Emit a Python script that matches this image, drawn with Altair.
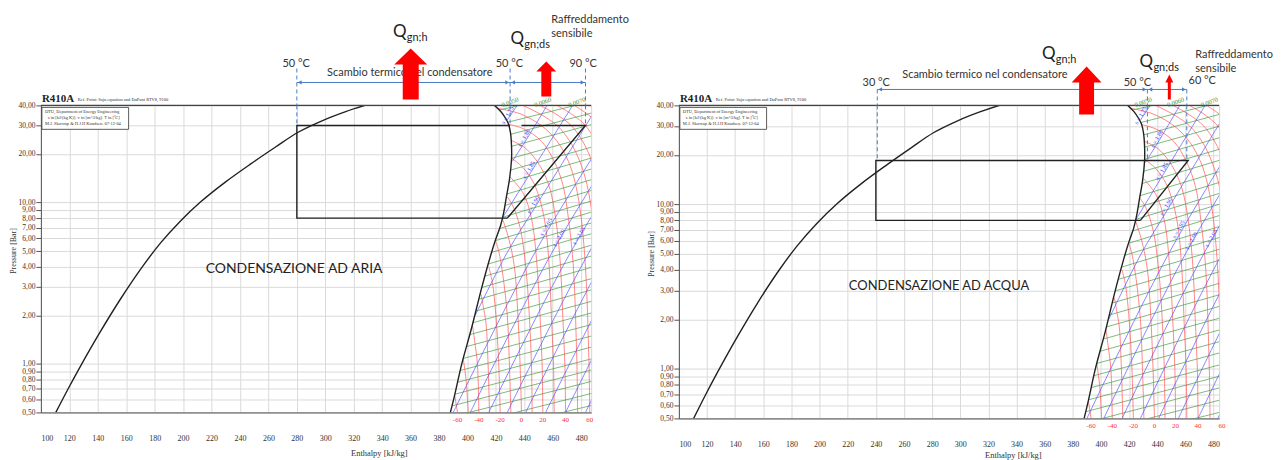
import altair as alt
import pandas as pd

# ---------------- data ----------------
H_TICKS = list(range(100, 481, 20))
P_TICKS = [0.5, 0.6, 0.7, 0.8, 0.9, 1, 2, 3, 4, 5, 6, 7, 8, 9, 10, 20, 30, 40]

# saturation dome
LIQ_H = [110.5, 118.9, 127.3, 141.4, 156.1, 170.8, 184.2, 198.2, 212.2, 229.7, 247.3, 264.8, 280.9, 298.5, 313.9, 327.9]
LIQ_P = [0.50, 0.694, 0.949, 1.561, 2.533, 3.937, 5.62, 7.69, 10.07, 13.39, 17.29, 22.0, 27.27, 32.35, 36.5, 40.0]
VAP_H = [388.0, 391.0, 396.0, 403.0, 410.0, 416.3, 419.8, 423.3, 425.4, 427.5, 429.6, 431.0, 431.0, 430.3, 428.9, 426.8, 423.3, 419.0]
VAP_P = [0.50, 0.64, 1.00, 1.68, 2.96, 4.70, 5.90, 7.20, 8.60, 11.0, 14.0, 18.6, 22.3, 26.9, 30.6, 33.3, 36.8, 40.0]

# isotherms (red)
ISOT_T = [-60, -50, -40, -30, -20, -10, 0, 10, 20, 30, 40, 50, 60, 70, 80, 90, 100, 110]
ISOT_H = [
    [393, 391],
    [400.5, 399, 397],
    [408, 407, 405, 403.5],
    [415.5, 414.5, 413, 411, 409.5],
    [423, 422, 420, 417.5, 415],
    [430.5, 429.5, 428, 425, 422, 420],
    [438, 437, 435.5, 433, 429, 424.5],
    [445.5, 445, 443.5, 441, 437, 432, 428],
    [453, 452.5, 451, 449, 445, 439, 430],
    [461, 460.5, 459, 457.5, 454, 447, 439, 431],
    [469, 468.5, 467, 465.5, 462, 457, 449, 440, 431],
    [477.5, 477, 476, 474.5, 471, 467, 461, 452, 440, 429],
    [486, 485.5, 484.5, 483, 480, 476, 471, 463, 452, 437, 422],
    [493.5, 492.5, 491, 488, 484, 479, 472, 463, 452, 439],
    [501, 500, 498.5, 496, 492, 487.5, 481, 473, 463, 451],
    [509, 508, 506.5, 504, 500, 496, 490, 483, 474, 463],
    [517, 516, 514.5, 512, 508.5, 504.5, 499, 493, 485, 475],
    [525, 524, 522.5, 520, 516.5, 513, 508, 502, 495, 486],
]
ISOT_P = [
    [0.5, 0.64],
    [0.5, 0.8, 1.08],
    [0.5, 1, 1.4, 1.75],
    [0.5, 1, 1.8, 2.3, 2.71],
    [0.5, 1, 2, 3.2, 4.0],
    [0.5, 1, 2, 3.5, 5, 5.73],
    [0.5, 1, 2, 4, 6, 7.98],
    [0.5, 1, 2, 4, 7, 9.5, 10.85],
    [0.5, 1, 2, 4, 8, 11.5, 14.4],
    [0.5, 1, 2, 4, 8, 13, 16.5, 18.8],
    [0.5, 1, 2, 4, 8, 13, 18, 22, 24.2],
    [0.5, 1, 2, 4, 8, 13, 18, 24, 28.5, 30.6],
    [0.5, 1, 2, 4, 8, 13, 18, 24, 30, 35.5, 38.3],
    [0.5, 2, 4, 8, 13, 18, 24, 30, 35, 40],
    [0.5, 2, 4, 8, 13, 18, 24, 30, 35, 40],
    [0.5, 2, 4, 8, 13, 18, 24, 30, 35, 40],
    [0.5, 2, 4, 8, 13, 18, 24, 30, 35, 40],
    [0.5, 2, 4, 8, 13, 18, 24, 30, 35, 40],
]
ISOT_LAB_T = [-60, -40, -20, 0, 20, 40, 60]
ISOT_LAB_H = [393, 408, 423, 438, 453, 469, 486]

# isentropes (blue)
ISEN_S = [1.75, 1.80, 1.85, 1.90, 1.95, 2.00, 2.05, 2.10, 2.15, 2.20, 2.25, 2.30]
ISEN_H = [
    [428, 435],
    [431.5, 441.5, 456],
    [424.5, 445, 474],
    [405.5, 428.5, 448, 492],
    [390, 448, 511],
    [402, 460, 523],
    [415, 473, 536],
    [428, 486, 549],
    [441, 499, 562],
    [455, 513, 576],
    [469, 527, 590],
    [483, 541, 604],
]
ISEN_P = [
    [32.5, 40],
    [18, 24.6, 40],
    [8, 15.6, 40],
    [2, 5, 9.5, 40],
    [0.5, 5, 40], [0.5, 5, 40], [0.5, 5, 40], [0.5, 5, 40],
    [0.5, 5, 40], [0.5, 5, 40], [0.5, 5, 40], [0.5, 5, 40],
]
ISEN_LAB = ["s = 1,75", "s = 1,80", "s = 1,85", "s = 1,90", "s = 1,95", "s = 2,00", "s = 2,05"]
ISEN_LAB_H = [430, 441.5, 445, 448, 457, 466, 480]
ISEN_LAB_P = [34, 24.6, 15.6, 9.5, 6.9, 5.9, 6.1]

# isochores (green)
ISOC_H0 = [383, 385, 387, 389.5, 391.5, 393.3, 395, 397, 399.3, 401.8, 404, 406.3, 408.3, 410.2, 412.2,
           414.3, 416.6, 419.5, 422.5, 424.7, 426.3, 427.8, 429.3, 430.3, 431, 431, 430.4, 428.5, 422.5]
ISOC_P0 = [0.33, 0.39, 0.465, 0.55, 0.65, 0.77, 0.91, 1.08, 1.28, 1.52, 1.8, 2.13, 2.52, 2.98, 3.5,
           4.15, 4.9, 5.8, 6.9, 8.1, 9.6, 11.3, 13.4, 15.9, 18.8, 22.3, 26.5, 31.5, 37.5]
ISOC_H1 = [490, 490, 490, 490, 490, 490, 490, 490, 490, 490, 490, 490, 490, 490, 490,
           490, 490, 490, 490, 490, 490, 490, 490, 490, 490, 490, 490, 490, 490]
ISOC_P1 = [0.56, 0.665, 0.79, 0.93, 1.09, 1.29, 1.51, 1.78, 2.1, 2.48, 2.92, 3.43, 4.03, 4.74, 5.53,
           6.52, 7.6, 8.87, 10.4, 12.1, 14.1, 16.4, 19.2, 22.4, 26.3, 30.9, 36.4, 43, 51]
ISOC_LAB = ["0,0050", "0,0060", "0,0070"]
ISOC_LAB_H = [430, 453, 477]

# cycles
AIR_CYC_H = [[428, 280, 280, 430], [438, 483, 428]]
AIR_CYC_P = [[8, 8, 30, 30], [30, 30, 8]]
AIR_DASH_H = [280, 430, 483]
AIR_DASH_P = [30, 30, 30]
AIR_DASH_LAB = ["50 °C", "50 °C", "90 °C"]

WAT_CYC_H = [[428, 240, 240, 462, 428]]
WAT_CYC_P = [[8, 8, 18.5, 18.5, 8]]
WAT_DASH_H = [241, 433, 461]
WAT_DASH_P = [18.5, 18.5, 18.5]
WAT_DASH_LAB = ["30 °C", "50 °C", "60 °C"]

# ---------------- helpers ----------------
SERIF = "Liberation Serif"
SANS = "Lato"
ONE = pd.DataFrame({"k": [0]})


def lines_df(keys, hs, ps):
    rows = []
    for k, hl, pl in zip(keys, hs, ps):
        for i, (h, p) in enumerate(zip(hl, pl)):
            rows.append({"h": h, "p": p, "k": str(k), "o": i})
    return pd.DataFrame(rows)


def txt(s, x, y, size=11, color="#222", font=SANS, align="left", baseline="middle", weight="normal", angle=0):
    return alt.Chart(ONE).mark_text(text=s, fontSize=size, color=color, font=font, align=align,
                                    baseline=baseline, fontWeight=weight, angle=angle).encode(
        x=alt.value(x), y=alt.value(y))


def arrow(x, y, w_head, w_shaft, height, head_h):
    a = w_head / height
    b = w_shaft / height
    c = -1 + 2 * head_h / height
    path = (f"M{-b:.3f},1L{b:.3f},1L{b:.3f},{c:.3f}L{a:.3f},{c:.3f}L0,-1"
            f"L{-a:.3f},{c:.3f}L{-b:.3f},{c:.3f}Z")
    return alt.Chart(ONE).mark_point(shape=path, filled=True, size=height ** 2, color="#ff0000",
                                     opacity=1, strokeWidth=0).encode(x=alt.value(x), y=alt.value(y))


ISOT_DF = lines_df(ISOT_T, ISOT_H, ISOT_P)
ISEN_DF = lines_df(ISEN_S, ISEN_H, ISEN_P)
ISOC_DF = lines_df(list(range(len(ISOC_H0))), [[a, b] for a, b in zip(ISOC_H0, ISOC_H1)],
                   [[a, b] for a, b in zip(ISOC_P0, ISOC_P1)])
DOME_DF = lines_df(["liq", "vap"], [LIQ_H, VAP_H], [LIQ_P, VAP_P])


def panel(W, H, XMAX, cyc_h, cyc_p, dash_h, dash_p, dash_lab, ann):
    XS = alt.Scale(domain=[100, XMAX], nice=False, zero=False)
    YS = alt.Scale(type="log", domain=[0.5, 40], nice=False)
    XA = alt.Axis(values=H_TICKS, format="d", grid=True, gridColor="#dadada", ticks=False, labelPadding=22,
                  labelFont=SERIF, labelFontSize=8, labelColor="#333", domainColor="#555", labelOverlap=False,
                  title="Enthalpy [kJ/kg]", titleFont=SERIF, titleFontSize=8.5, titleFontWeight="normal",
                  titleColor="#333", titleX=ann["titleX"], titleY=ann["titleY"], titleBaseline="middle")
    YA = alt.Axis(values=P_TICKS, labelExpr="replace(format(datum.value, '.2f'), '.', ',')", grid=True,
                  gridColor="#dadada", tickColor="#555", tickSize=5, labelPadding=1, labelFont=SERIF,
                  labelFontSize=7.5, labelColor="#333", domainColor="#555", title=None, minExtent=0,
                  labelOverlap=False)

    def X(f="h"):
        return alt.X(f"{f}:Q", scale=XS, axis=XA)

    def Y(f="p"):
        return alt.Y(f"{f}:Q", scale=YS, axis=YA)

    layers = []
    layers.append(alt.Chart(ISOC_DF).mark_line(clip=True, color="#3f9a3f", strokeWidth=0.8, opacity=0.85)
                  .encode(x=X(), y=Y(), detail="k:N", order="o:Q"))
    layers.append(alt.Chart(ISOT_DF).mark_line(clip=True, color="#ff5050", strokeWidth=0.8, opacity=0.85,
                                               interpolate="catmull-rom")
                  .encode(x=X(), y=Y(), detail="k:N", order="o:Q"))
    layers.append(alt.Chart(ISEN_DF).mark_line(clip=True, color="#5050ff", strokeWidth=0.8, opacity=0.85,
                                               interpolate="catmull-rom")
                  .encode(x=X(), y=Y(), detail="k:N", order="o:Q"))
    layers.append(alt.Chart(DOME_DF).mark_line(clip=True, color="#222", strokeWidth=1.4,
                                               interpolate="catmull-rom")
                  .encode(x=X(), y=Y(), detail="k:N", order="o:Q"))
    cyc_df = lines_df(list(range(len(cyc_h))), cyc_h, cyc_p)
    layers.append(alt.Chart(cyc_df).mark_line(clip=True, color="#222", strokeWidth=1.4)
                  .encode(x=X(), y=Y(), detail="k:N", order="o:Q"))
    # top border
    layers.append(alt.Chart(pd.DataFrame({"p": [40]})).mark_rule(color="#444", strokeWidth=1.2)
                  .encode(y=Y(), x=alt.value(0), x2=alt.value(W)))
    # y-axis title as a text mark (keeps the left margin tight)
    layers.append(txt("Pressure [Bar]", -27, H / 2 - 8, size=8, font=SERIF, align="center", color="#333",
                      angle=270))
    # isotherm labels below the plot
    layers.append(alt.Chart(pd.DataFrame({"h": ISOT_LAB_H, "t": [str(t) for t in ISOT_LAB_T]}))
                  .mark_text(color="#ff3030", fontSize=7, font=SERIF, baseline="middle")
                  .encode(x=X(), y=alt.value(H + 8), text="t:N"))
    # isentrope labels
    layers.append(alt.Chart(pd.DataFrame({"h": ISEN_LAB_H, "p": ISEN_LAB_P, "t": ISEN_LAB}))
                  .mark_text(color="#3030ff", fontSize=6, font=SERIF, angle=300, baseline="bottom")
                  .encode(x=X(), y=Y(), text="t:N"))
    # isochore labels
    layers.append(alt.Chart(pd.DataFrame({"h": ISOC_LAB_H, "t": ISOC_LAB}))
                  .mark_text(color="#3a8f3a", fontSize=6.5, font=SERIF, angle=340, baseline="middle")
                  .encode(x=X(), y=alt.value(-3), text="t:N"))
    # dashed markers
    dash_df = pd.DataFrame({"h": dash_h, "p": [40] * len(dash_h), "p2": dash_p})
    layers.append(alt.Chart(dash_df).mark_rule(color="#4a7cc4", strokeDash=[4, 3], strokeWidth=1)
                  .encode(x=X(), y=alt.value(ann["dash_top"]), y2=alt.value(0)))
    layers.append(alt.Chart(dash_df).mark_rule(color="#4a7cc4", strokeDash=[4, 3], strokeWidth=1)
                  .encode(x=X(), y=Y(), y2="p2:Q"))
    seg_df = pd.DataFrame({"h": dash_h[:-1], "h2": dash_h[1:]})
    layers.append(alt.Chart(seg_df).mark_rule(color="#4a7cc4", strokeWidth=1)
                  .encode(x=X(), x2="h2:Q", y=alt.value(ann["arr_y"])))
    layers.append(alt.Chart(pd.DataFrame({"h": dash_h[:-1]})).mark_point(
        shape="triangle-left", filled=True, size=18, color="#4a7cc4", opacity=1, xOffset=3)
        .encode(x=X(), y=alt.value(ann["arr_y"])))
    layers.append(alt.Chart(pd.DataFrame({"h": dash_h[1:]})).mark_point(
        shape="triangle-right", filled=True, size=18, color="#4a7cc4", opacity=1, xOffset=-3)
        .encode(x=X(), y=alt.value(ann["arr_y"])))
    for lab, (lx, ly) in zip(dash_lab, ann["temps"]):
        layers.append(txt(lab, lx, ly, size=11, align="center", color="#333"))
    # heat labels & arrows
    layers.append(txt("Scambio termico nel condensatore", ann["scambio"][0], ann["scambio"][1], size=11,
                      align="center", color="#333"))
    qx, qy = ann["qh"]
    layers.append(txt("Q", qx, qy, size=17, align="center"))
    layers.append(txt("gn;h", qx + 7, qy + 6, size=11))
    qx, qy = ann["qds"]
    layers.append(txt("Q", qx, qy, size=17, align="center"))
    layers.append(txt("gn;ds", qx + 7, qy + 6, size=11))
    rx, ry = ann["raff"]
    layers.append(txt("Raffreddamento", rx, ry, size=11, color="#333"))
    layers.append(txt("sensibile", rx, ry + 14, size=11, color="#333"))
    layers.append(arrow(*ann["big_arrow"]))
    layers.append(arrow(*ann["small_arrow"]))
    # big condensation label
    bx, by, bs, btxt = ann["big"]
    layers.append(txt(btxt, bx, by, size=bs, align="center", color="#222"))
    # chart title and info box
    layers.append(txt("R410A", 1, -6, size=11, font=SERIF, weight="bold", color="#222"))
    layers.append(txt("Ref. Point: Saju equation and DuPont RTV8, 9100", 37, -5, size=4.5, font=SERIF,
                      color="#333"))
    layers.append(alt.Chart(ONE).mark_rect(fill="white", stroke="#333", strokeWidth=0.8)
                  .encode(x=alt.value(1), x2=alt.value(88), y=alt.value(2), y2=alt.value(24)))
    layers.append(txt("DTU, Department of Energy Engineering", 4, 7, size=4.5, font=SERIF, color="#333"))
    layers.append(txt("s in [kJ/(kg K)]. v in [m^3/kg]. T in [ºC]", 7, 13, size=4.5, font=SERIF, color="#333"))
    layers.append(txt("M.J. Skovrup & H.J.H Knudsen. 07-12-04", 4, 19, size=4.5, font=SERIF, color="#333"))
    # top anchor (invisible)
    layers.append(alt.Chart(ONE).mark_rule(strokeOpacity=0)
                  .encode(x=alt.value(0), y=alt.value(ann["anchor"]), y2=alt.value(ann["anchor"] + 1)))
    return alt.layer(*layers).properties(width=W, height=H)


left_ann = {
    "titleX": 339, "titleY": 40, "dash_top": -37, "arr_y": -23,
    "temps": [(256, -42), (470, -42), (544, -42)],
    "scambio": (370, -33), "qh": (360, -74), "qds": (478, -67), "raff": (512, -86),
    "big_arrow": (371, -31.5, 33, 16, 51, 16), "small_arrow": (507, -26.5, 20, 10, 35, 10),
    "big": (254, 164, 14, "CONDENSAZIONE AD ARIA"), "anchor": -96,
}
right_ann = {
    "titleX": 335, "titleY": 36, "dash_top": -16, "arr_y": -16,
    "temps": [(198, -22), (460, -22), (525, -24)],
    "scambio": (307, -30), "qh": (371, -52), "qds": (469, -44), "raff": (518, -51),
    "big_arrow": (409, -15, 30, 15, 48, 16), "small_arrow": (492, -18.5, 8, 3, 25, 8),
    "big": (261, 181, 13, "CONDENSAZIONE AD ACQUA"), "anchor": -60,
}

left = panel(552, 308, 487, AIR_CYC_H, AIR_CYC_P, AIR_DASH_H, AIR_DASH_P, AIR_DASH_LAB, left_ann)
right = panel(542, 314, 484, WAT_CYC_H, WAT_CYC_P, WAT_DASH_H, WAT_DASH_P, WAT_DASH_LAB, right_ann)

chart = alt.hconcat(left, right, spacing=88, bounds="flush").properties(
    padding={"left": 1, "top": 0, "right": 0, "bottom": 0}).configure_view(stroke="#d6d6d6")

chart.save("out.html", embed_options={"renderer": "svg", "actions": False})
